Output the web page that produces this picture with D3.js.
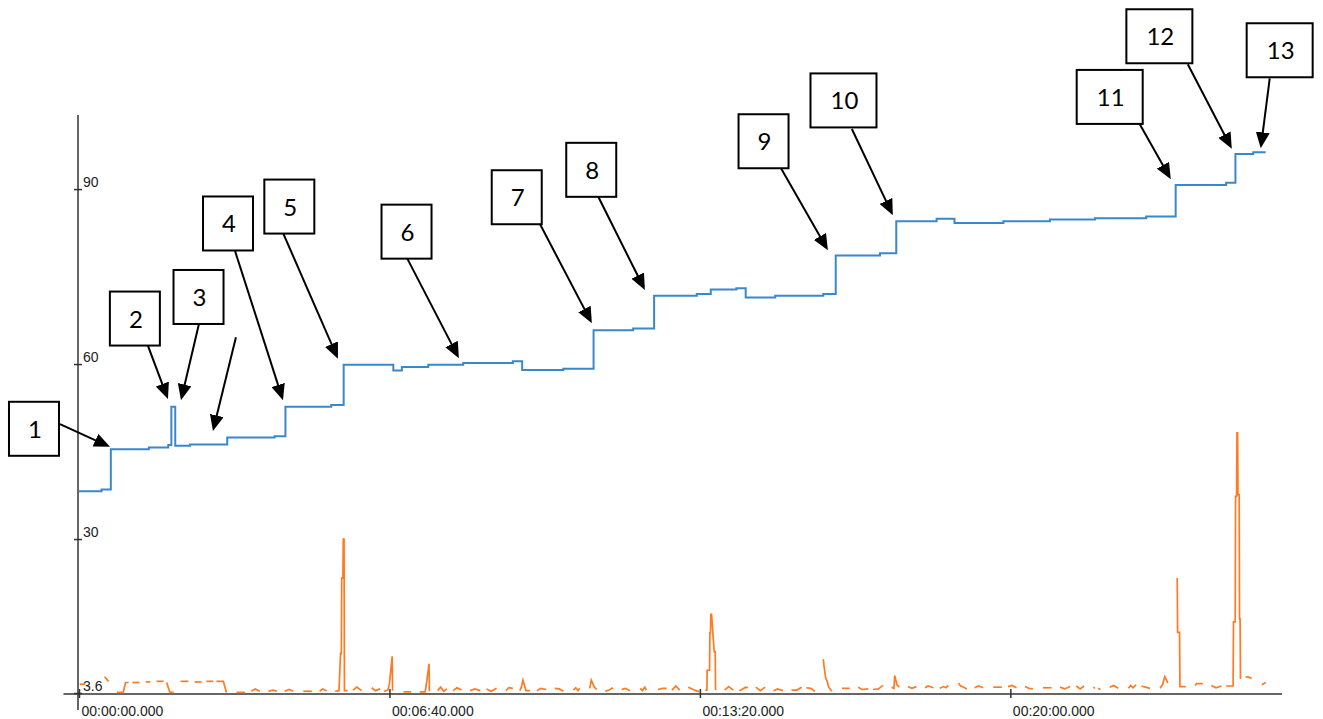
<!DOCTYPE html>
<html>

<head>
  <meta charset="utf-8">
  <title>Step trend with spikes</title>
  <script src="https://d3js.org/d3.v7.min.js"></script>
  <style>
    body {
      margin: 0;
      background: #fff;
    }

    .axis text {
      font-family: "Liberation Sans", Arial, sans-serif;
      font-size: 14px;
      fill: #222;
    }

    .axis line {
      stroke: #333;
      stroke-width: 1.5;
    }

    .note text {
      font-family: Lato, "Open Sans", sans-serif;
      font-size: 24px;
      fill: #000;
    }
  </style>
</head>

<body>
  <svg id="svg" width="1323" height="719"></svg>
  <script>
    // ---- data: time in seconds, value in chart units ----
    const blueTimes = [0, 29, 41, 90, 115, 119, 124, 143, 191, 252,
      266, 325, 341, 405, 416, 450, 495, 559, 571, 624,
      663, 714, 741, 796, 814, 847, 859, 897, 959, 975,
      1032, 1053, 1105, 1128, 1191, 1251, 1309, 1375, 1413, 1478,
      1490, 1513, 1529];
    const blueValues = [38.2, 38.5, 45.4, 45.7, 46.1, 52.7, 46.0, 46.2, 47.4, 47.6,
      52.7, 53.0, 59.9, 58.9, 59.5, 59.9, 60.2, 60.5, 59.0, 59.2,
      65.8, 66.1, 71.7, 72.0, 72.8, 73.0, 71.4, 71.7, 72.0, 78.6,
      79.0, 84.5, 84.9, 84.2, 84.5, 84.8, 85.0, 85.3, 90.7, 91.1,
      96.0, 96.3, 96.3];

    // orange series comes in broken pieces (gaps between samples)
    const orangeSegments = [
      [[1, 5.1], [8, 5.1]],
      [[33, 6.4], [38, 5.6]],
      [[49, 3.7], [57, 3.7], [60, 5.4], [64, 5.4]],
      [[69, 5.4], [78, 5.4]],
      [[86, 5.5], [92, 5.5]],
      [[100, 5.6], [109, 5.6]],
      [[113, 5.4], [117, 3.7], [122, 3.7]],
      [[131, 5.6], [141, 5.6]],
      [[149, 5.5], [158, 5.5]],
      [[164, 5.6], [173, 5.6]],
      [[177, 5.6], [186, 5.6], [190, 3.7]],
      [[203, 3.7], [214, 3.7]],
      [[222, 3.9], [227, 4.3], [233, 3.9]],
      [[244, 3.9], [250, 4.1], [255, 3.9]],
      [[265, 3.9], [271, 4.2], [276, 3.9]],
      [[289, 3.9], [300, 3.9]],
      [[310, 3.9], [314, 4.3], [319, 4.0]],
      [[330, 3.9], [335, 4.0], [337, 10.4], [338, 10.4], [338.5, 23.3], [340, 23.3], [340.5, 30.0], [341.5, 30.0], [342, 4.0], [346, 4.0]],
      [[353, 4.1], [358, 4.6], [364, 4.0]],
      [[377, 4.5], [382, 4.0], [388, 4.3]],
      [[393, 3.9], [398, 4.1], [400, 5.2], [403.5, 9.9], [404, 4.0]],
      [[418, 3.8], [428, 3.8]],
      [[439, 3.8], [446, 3.8], [448, 5.5], [451, 8.6], [451.5, 3.9]],
      [[462, 4.0], [466, 4.6], [470, 3.9], [474, 4.3]],
      [[482, 4.0], [487, 4.5], [493, 4.1]],
      [[504, 4.0], [510, 4.3], [517, 4.0]],
      [[525, 4.3], [531, 3.9], [538, 4.4]],
      [[550, 4.0], [554, 4.5], [559, 4.4]],
      [[568, 4.0], [570, 4.6], [572, 5.8], [576, 4.0], [581, 4.0]],
      [[590, 4.0], [595, 4.4], [602, 4.2]],
      [[613, 4.4], [619, 4.3], [624, 3.9]],
      [[637, 4.1], [640, 4.5], [643, 4.0], [645, 4.4]],
      [[658, 4.4], [660, 5.8], [664, 4.6], [667, 4.2]],
      [[678, 3.9], [683, 4.1], [688, 4.5]],
      [[699, 4.2], [704, 4.4], [710, 4.0]],
      [[723, 4.4], [726, 4.0], [729, 4.6], [731, 4.1]],
      [[746, 4.2], [752, 4.4], [757, 4.4]],
      [[764, 4.1], [769, 4.8], [774, 4.1]],
      [[785, 4.6], [790, 4.3], [795, 4.0], [800, 3.8]],
      [[807, 4.1], [809, 4.1], [809.4, 7.5], [812.4, 7.5], [812.9, 13.9], [813.6, 13.9], [814.1, 17.1], [815, 17.1], [818.4, 10.7], [819.7, 10.7], [820.2, 4.1]],
      [[832, 4.1], [837, 4.7], [843, 4.1]],
      [[851, 4.0], [855, 4.3], [859, 4.6], [862, 4.5]],
      [[872, 4.6], [878, 4.0], [884, 4.6]],
      [[895, 4.0], [900, 4.3], [907, 4.0]],
      [[918, 4.1], [925, 4.1], [931, 4.6]],
      [[937, 4.5], [943, 4.4], [948, 3.9]],
      [[959, 9.4], [960, 8.1], [962, 6.2], [964, 5.6], [966, 4.6], [970, 3.9]],
      [[983, 4.4], [993, 4.4]],
      [[1004, 4.6], [1009, 4.2], [1017, 4.3]],
      [[1023, 4.2], [1030, 4.3], [1033, 4.6], [1036, 4.9]],
      [[1047, 4.6], [1050, 4.4], [1051, 6.6], [1054, 5.0], [1057, 4.6]],
      [[1068, 4.7], [1073, 4.4], [1079, 4.7]],
      [[1090, 4.5], [1094, 4.8], [1101, 4.5]],
      [[1109, 4.4], [1114, 4.7], [1117, 4.5], [1120, 4.9]],
      [[1133, 5.3], [1136, 4.8], [1140, 4.6], [1144, 4.3]],
      [[1154, 4.5], [1159, 4.8], [1165, 4.5]],
      [[1178, 4.6], [1189, 4.6]],
      [[1197, 4.7], [1202, 4.9], [1208, 4.5]],
      [[1219, 4.7], [1224, 4.4], [1229, 4.3]],
      [[1242, 4.5], [1253, 4.5]],
      [[1264, 4.6], [1270, 4.3], [1277, 4.7]],
      [[1285, 4.8], [1290, 4.3], [1295, 4.8]],
      [[1307, 4.6], [1309, 4.4]],
      [[1313, 4.4], [1316, 4.2]],
      [[1328, 4.6], [1333, 4.9], [1339, 4.4]],
      [[1352, 4.4], [1355, 4.9], [1358, 4.5], [1362, 5.0]],
      [[1369, 4.8], [1374, 4.6], [1380, 4.4]],
      [[1393, 4.4], [1396, 5.0], [1399, 6.4], [1403, 5.3]],
      [[1415, 23.3], [1415.5, 14.0], [1418, 14.0], [1418.5, 4.7], [1426, 4.7]],
      [[1438, 4.9], [1440, 5.2], [1448, 5.2]],
      [[1459, 4.9], [1465, 4.5], [1472, 4.8]],
      [[1478, 4.8], [1487, 4.8], [1487.5, 15.8], [1489.7, 15.8], [1490.2, 37.3], [1491.5, 37.3], [1492, 48.2], [1492.8, 48.2], [1493.3, 37.6], [1494.8, 37.6], [1495.3, 16.3], [1496, 16.3], [1496.5, 6.0]],
      [[1503, 6.3], [1506, 6.4], [1511, 6.1]],
      [[1524, 5.0], [1529, 5.4]]
    ];

    const yTickValues = [3.6, 30, 60, 90];
    const xTickValues = [0, 400, 800, 1200];

    // callouts, in the same time/value units ("" = arrow without a box)
    const noteLabels = ["1", "2", "3", "", "4", "5", "6", "7", "8", "9", "10", "11", "12", "13"];
    const noteBoxT = [-58, 72, 154, null, 192, 271, 422, 564, 660, 882, 985, 1328, 1392, 1547];
    const noteBoxV = [48.9, 67.8, 71.5, null, 84.1, 87.0, 82.7, 88.6, 93.3, 98.2, 105.2, 105.8, 116.2, 113.8];
    const arrowFromT = [-24.5, 88.9, 154.6, 202.2, 201.0, 262.8, 422.5, 593.9, 668.6, 904.3, 995.8, 1366.8, 1428.6, 1534.2];
    const arrowFromV = [49.7, 63.1, 66.9, 64.6, 79.4, 82.5, 78.2, 84.0, 88.8, 93.6, 100.3, 101.1, 111.4, 109.0];
    const arrowToT = [39.9, 114.6, 131.4, 172.6, 262.8, 333.6, 489.5, 660.8, 729.1, 964.9, 1048.6, 1406.7, 1485.3, 1522.6];
    const arrowToV = [45.8, 54.0, 53.8, 48.5, 53.8, 60.9, 61.0, 67.0, 72.7, 79.5, 85.5, 91.7, 96.9, 97.0];

    // ---- layout ----
    const svg = d3.select("#svg");
    const x = d3.scaleLinear().domain([0, 1550]).range([79, 1282]);
    const y = d3.scaleLinear().domain([3.6, 102.7]).range([693, 115]);

    const fmtTime = s => {
      const p = n => String(n).padStart(2, "0");
      return `${p(Math.floor(s / 3600))}:${p(Math.floor(s % 3600 / 60))}:${p(s % 60)}.000`;
    };

    // ---- axes ----
    const axis = svg.append("g").attr("id", "axis");

    const gx = axis.append("g").attr("class", "axis")
      .attr("transform", `translate(0,${y(3.6) + 1})`)
      .call(d3.axisBottom(x).tickValues(xTickValues).tickSize(4).tickFormat(fmtTime));
    gx.select(".domain").remove();
    gx.append("line").attr("x1", x(-20)).attr("x2", x(1550)).attr("y1", 0).attr("y2", 0);
    gx.selectAll(".tick line").attr("y1", -5).attr("y2", 4);
    gx.selectAll(".tick text").attr("text-anchor", "start").attr("x", 2).attr("y", 22).attr("dy", 0);

    const gy = axis.append("g").attr("class", "axis")
      .attr("transform", `translate(${x(0) - 1},0)`)
      .call(d3.axisRight(y).tickValues(yTickValues).tickSize(4).tickFormat(d => d));
    gy.select(".domain").remove();
    gy.append("line").attr("x1", 0).attr("x2", 0).attr("y1", y(102.7)).attr("y2", y(0.7));
    gy.selectAll(".tick line").attr("x1", -4).attr("x2", 4);
    gy.selectAll(".tick text").attr("x", 5).attr("dy", -3);

    // ---- series ----
    const chartArea = svg.append("g").attr("id", "chartArea");

    const bluePts = blueTimes.map((t, i) => [t, blueValues[i]]);
    const blueLine = d3.line().x(d => x(d[0])).y(d => y(d[1])).curve(d3.curveStepAfter);
    chartArea.append("path")
      .attr("d", blueLine(bluePts))
      .attr("fill", "none")
      .attr("stroke", "#3a88cc")
      .attr("stroke-width", 2);

    const orangeLine = d3.line().x(d => x(d[0])).y(d => y(d[1]));
    chartArea.selectAll("path.orange")
      .data(orangeSegments)
      .join("path")
      .attr("class", "orange")
      .attr("d", orangeLine)
      .attr("fill", "none")
      .attr("stroke", "#ff7a21")
      .attr("stroke-width", 1.7);

    // ---- callouts ----
    const defs = svg.append("defs");
    defs.append("marker")
      .attr("id", "head")
      .attr("viewBox", "0 0 16 14")
      .attr("refX", 16).attr("refY", 7)
      .attr("markerWidth", 16).attr("markerHeight", 14)
      .attr("markerUnits", "userSpaceOnUse")
      .attr("orient", "auto")
      .append("path").attr("d", "M0,0L16,7L0,14Z").attr("fill", "#000");

    const notes = svg.append("g").attr("class", "note");
    noteLabels.forEach((label, i) => {
      const x1 = x(arrowFromT[i]), y1 = y(arrowFromV[i]);
      const x2 = x(arrowToT[i]), y2 = y(arrowToV[i]);
      const len = Math.hypot(x2 - x1, y2 - y1);
      // stop the shaft short so the head keeps its point
      const k = (len - 8) / len;
      notes.append("line")
        .attr("x1", x1).attr("y1", y1)
        .attr("x2", x1 + (x2 - x1) * k).attr("y2", y1 + (y2 - y1) * k)
        .attr("stroke", "#000").attr("stroke-width", 2);
      notes.append("path")
        .attr("d", `M${x1 + (x2 - x1) * k},${y1 + (y2 - y1) * k}L${x2},${y2}`)
        .attr("stroke", "none")
        .attr("marker-end", "url(#head)");

      if (!label) return;
      const cx = x(noteBoxT[i]), cy = y(noteBoxV[i]);
      const w = label.length > 1 ? 66 : 50, h = 54;
      notes.append("rect")
        .attr("x", cx - w / 2).attr("y", cy - h / 2)
        .attr("width", w).attr("height", h)
        .attr("fill", "#fff").attr("stroke", "#000").attr("stroke-width", 2);
      notes.append("text")
        .attr("x", cx + 1).attr("y", cy + 9)
        .attr("text-anchor", "middle")
        .text(label);
    });
  </script>
</body>

</html>
